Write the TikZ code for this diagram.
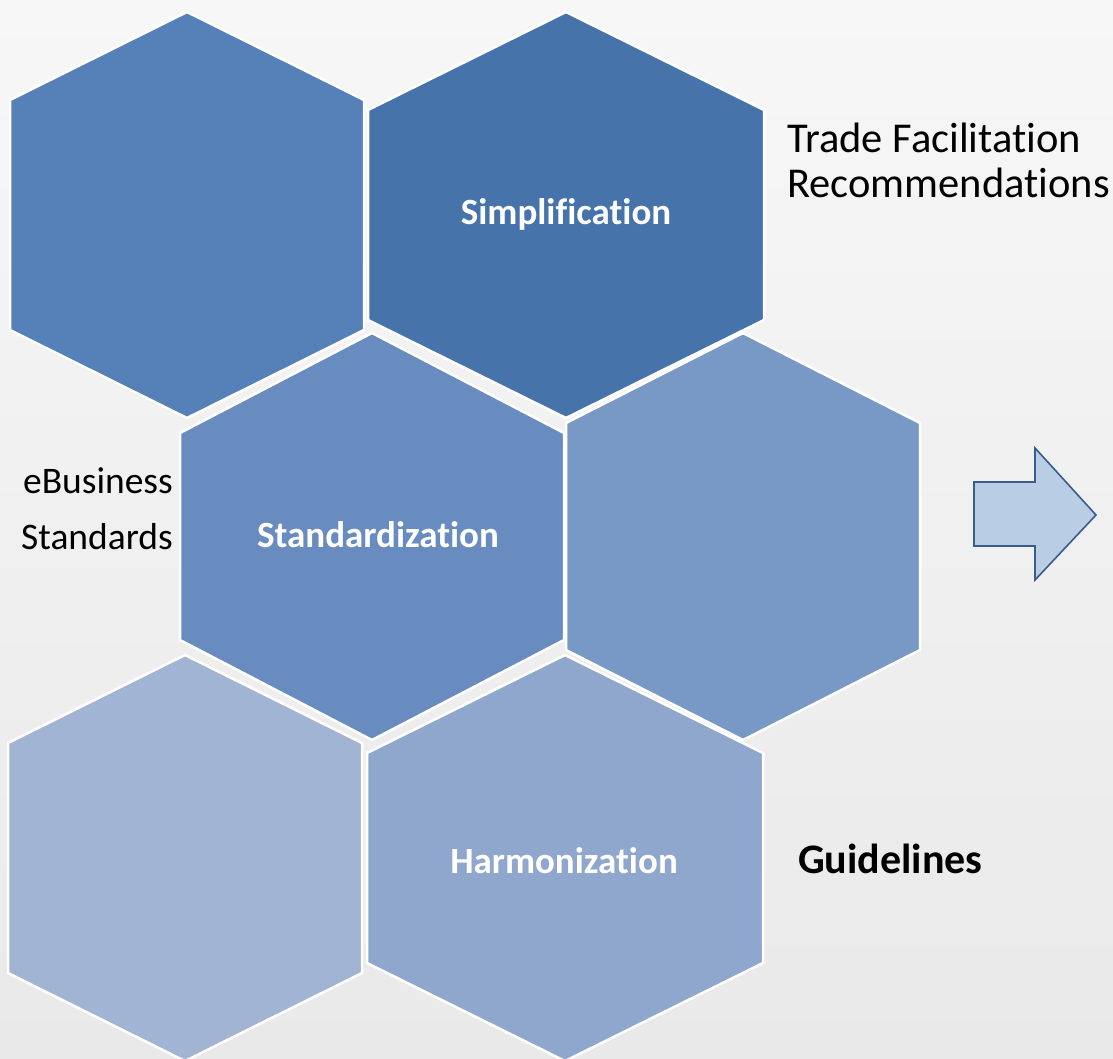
\documentclass[tikz,border=0pt]{standalone}
\usepackage{fontspec}
\setmainfont{Carlito}[Ligatures={NoCommon}]
\definecolor{hexA}{HTML}{5580B8}
\definecolor{hexB}{HTML}{4673AA}
\definecolor{hexC}{HTML}{688CC0}
\definecolor{hexD}{HTML}{7899C5}
\definecolor{hexE}{HTML}{A1B4D4}
\definecolor{hexF}{HTML}{8FA7CC}
\definecolor{arrfill}{HTML}{B9CDE5}
\definecolor{arrline}{HTML}{385D8A}
\definecolor{bgtop}{HTML}{F7F7F7}
\definecolor{bgbot}{HTML}{E9E9E9}
\tikzset{
  hexstyle/.style={draw=white, line width=2.5pt, line join=miter},
  lbl/.style={text=white, inner sep=0pt, font=\bfseries\fontsize{37}{40}\selectfont},
  sidetext/.style={text=black, inner sep=0pt, font=\fontsize{42.5}{45}\selectfont},
  ebtext/.style={text=black, inner sep=0pt, font=\fontsize{37.5}{40}\selectfont},
  guidetext/.style={text=black, inner sep=0pt, font=\bfseries\fontsize{42}{44}\selectfont},
  bigarrow/.style={fill=arrfill, draw=arrline, line width=1.6pt, line join=miter}
}
% cx, top, bottom, half-width, vertex offset, colour
\newcommand\hexshape[6]{%
  \filldraw[hexstyle, fill=#6] (#1,#2) -- ({#1+#4},{#2+#5}) -- ({#1+#4},{#3-#5})
    -- (#1,#3) -- ({#1-#4},{#3-#5}) -- ({#1-#4},{#2+#5}) -- cycle;}
\begin{document}
\begin{tikzpicture}[x=1pt,y=-1pt]
\useasboundingbox (0,0) rectangle (1113,1059);
\shade[top color=bgtop, bottom color=bgbot] (0,0) rectangle (1113,1059);
% hexagons
\hexshape{187}{12}{418}{177}{88}{hexA}
\hexshape{566}{12}{418}{198}{98}{hexB}
\hexshape{372}{333}{740}{192}{100}{hexC}
\hexshape{743}{333}{740}{177}{90}{hexD}
\hexshape{185}{655}{1061}{177}{88}{hexE}
\hexshape{565}{655}{1061}{198}{98}{hexF}
% arrow
\filldraw[bigarrow] (974,482) -- (1035,482) -- (1035,448) -- (1096,515)
  -- (1035,580) -- (1035,546) -- (974,546) -- cycle;
% labels
\node[lbl, anchor=base] (simp) at (566,225) {Simplification};
\node[lbl, anchor=base] (stand) at (378,547) {Standardization};
\node[lbl, anchor=base] (harm) at (564,873) {Harmonization};
\node[sidetext, anchor=base west] (tf) at (787,153) {Trade Facilitation};
\node[sidetext, anchor=base west] (rec) at (787,198) {Recommendations};
\node[ebtext, anchor=base east] (eb) at (173,493) {eBusiness};
\node[ebtext, anchor=base east] (std) at (173,549) {Standards};
\node[guidetext, anchor=base west] (guide) at (798,873) {Guidelines};
\end{tikzpicture}
\end{document}
